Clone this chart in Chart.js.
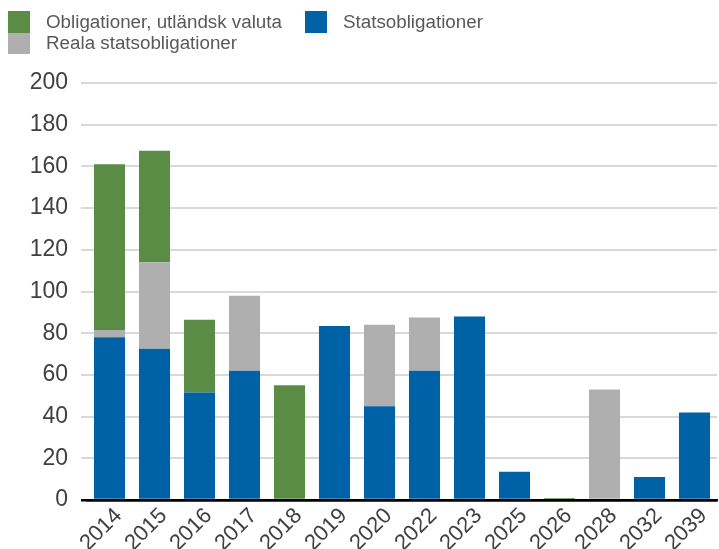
<!DOCTYPE html>
<html>
<head>
<meta charset="utf-8">
<script src="https://cdn.jsdelivr.net/npm/chart.js@4"></script>
<style>
	html, body { margin: 0; padding: 0; background: #fff; }
	#wrap { position: relative; width: 719px; height: 549px; }
	#legend {
		position: absolute; left: 8px; top: 11px;
		display: grid; grid-template-columns: 297px auto;
		font-family: "Liberation Sans", Arial, sans-serif; font-size: 18.8px; color: #595959;
	}
	.item { display: flex; align-items: center; height: 21.5px; }
	.box { width: 22px; height: 21.5px; margin-right: 16px; }
</style>
</head>
<body>
<div id="wrap">
	<canvas id="chart" width="719" height="549"></canvas>
	<div id="legend"></div>
</div>
<script>
const categories = ["2014", "2015", "2016", "2017", "2018", "2019", "2020", "2022", "2023", "2025", "2026", "2028", "2032", "2039"];
const statsobligationer = [78, 72.5, 51.5, 62, 0, 83.5, 45, 62, 88, 13.5, 0, 0, 11, 42];
const realaStatsobligationer = [3.5, 41.5, 0, 36, 0, 0, 39, 25.5, 0, 0, 0, 53, 0, 0];
const utlandskValuta = [79.5, 53.5, 35, 0, 55, 0, 0, 0, 0, 0, 1, 0, 0, 0];
const yTicks = [0, 20, 40, 60, 80, 100, 120, 140, 160, 180, 200];

const colors = {
	stats: "#0062a6",
	reala: "#afafaf",
	utl: "#5b8c46",
};

const font = "'Liberation Sans', Arial, sans-serif";

const datasets = [
	{ label: "Statsobligationer", data: statsobligationer, backgroundColor: colors.stats },
	{ label: "Reala statsobligationer", data: realaStatsobligationer, backgroundColor: colors.reala },
	{ label: "Obligationer, utländsk valuta", data: utlandskValuta, backgroundColor: colors.utl },
];

// legend: two columns like the original, built from the datasets
const legendOrder = [2, 0, 1];
const legend = document.getElementById("legend");
legendOrder.forEach((i) => {
	const ds = datasets[i];
	const item = document.createElement("div");
	item.className = "item";
	item.innerHTML = `<span class="box" style="background:${ds.backgroundColor}"></span><span>${ds.label}</span>`;
	legend.appendChild(item);
});

new Chart(document.getElementById("chart"), {
	type: "bar",
	data: { labels: categories, datasets },
	options: {
		responsive: false,
		animation: false,
		layout: { padding: { top: 83, left: 0, right: 2, bottom: 0 } },
		datasets: { bar: { categoryPercentage: 1, barPercentage: 0.69 } },
		plugins: { legend: { display: false }, tooltip: { enabled: false } },
		scales: {
			x: {
				stacked: true,
				afterFit: (scale) => { scale.height = 49; },
				grid: { display: false },
				border: { display: true, color: "#000", width: 2.5 },
				ticks: {
					color: "#404040",
					font: { family: font, size: 22 },
					minRotation: 45,
					maxRotation: 45,
					autoSkip: false,
					padding: -5,
					labelOffset: 9,
				},
			},
			y: {
				stacked: true,
				min: 0,
				max: 200,
				afterFit: (scale) => { scale.width = 87; },
				afterBuildTicks: (scale) => { scale.ticks = yTicks.map((v) => ({ value: v })); },
				border: { display: false },
				grid: {
					color: (ctx) => (ctx.tick && ctx.tick.value === 0 ? "#000" : "#d9d9d9"),
					lineWidth: (ctx) => (ctx.tick && ctx.tick.value === 0 ? 2.5 : 2),
					tickLength: 6,
				},
				ticks: {
					color: "#404040",
					font: { family: font, size: 23 },
					padding: 13,
				},
			},
		},
	},
});
</script>
</body>
</html>
